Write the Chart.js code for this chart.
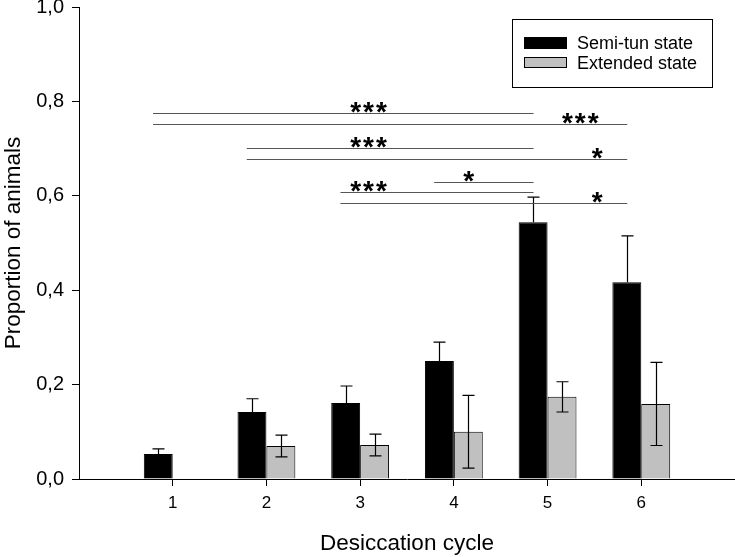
<!DOCTYPE html>
<html>
<head>
<meta charset="utf-8">
<script src="https://cdn.jsdelivr.net/npm/chart.js@4"></script>
<style>
  html, body { margin: 0; padding: 0; background: #fff; }
  #wrap { width: 735px; height: 557px; }
</style>
</head>
<body>
<div id="wrap"><canvas id="myChart"></canvas></div>
<script>
var cycles = [1, 2, 3, 4, 5, 6];
var semiTun = [0.053, 0.142, 0.161, 0.250, 0.544, 0.417];
var semiTunErr = [0.011, 0.028, 0.036, 0.040, 0.053, 0.098];
var extended = [0, 0.070, 0.072, 0.100, 0.174, 0.159];
var extendedErr = [0, 0.023, 0.023, 0.077, 0.032, 0.088];
var yTicks = [0, 0.2, 0.4, 0.6, 0.8, 1.0];

// significance comparisons: from cycle, to cycle, height, stars, where the stars sit (cycle units)
var sigFrom = [1, 1, 2, 2, 4, 3, 3];
var sigTo = [5, 6, 5, 6, 5, 5, 6];
var sigY = [0.775, 0.752, 0.701, 0.678, 0.629, 0.608, 0.585];
var sigText = ['***', '***', '***', '*', '*', '***', '*'];
var sigTextX = [3.1, 5.36, 3.1, 5.54, 4.17, 3.1, 5.54];

var FONT = "'Liberation Sans', Arial, sans-serif";

var errorBars = {
    id: 'errorBars',
    afterDatasetsDraw: function (chart) {
        var ctx = chart.ctx;
        var y = chart.scales.y;
        var errs = [semiTunErr, extendedErr];
        ctx.save();
        ctx.strokeStyle = '#000';
        ctx.lineWidth = 1.2;
        chart.data.datasets.forEach(function (ds, d) {
            var meta = chart.getDatasetMeta(d);
            meta.data.forEach(function (bar, i) {
                var v = ds.data[i].y;
                var e = errs[d][i];
                if (!v || !e) return;
                var x = Math.round(bar.x) + 0.5;
                var top = y.getPixelForValue(v + e);
                var bot = d === 0 ? y.getPixelForValue(v) : y.getPixelForValue(v - e);
                ctx.beginPath();
                ctx.moveTo(x, top);
                ctx.lineTo(x, bot);
                ctx.moveTo(x - 6, top);
                ctx.lineTo(x + 6, top);
                if (d === 1) {
                    ctx.moveTo(x - 6, bot);
                    ctx.lineTo(x + 6, bot);
                }
                ctx.stroke();
            });
        });
        ctx.restore();
    }
};

var sigLines = {
    id: 'sigLines',
    afterDraw: function (chart) {
        var ctx = chart.ctx;
        var xs = chart.scales.x, ys = chart.scales.y;
        ctx.save();
        ctx.strokeStyle = '#555';
        ctx.lineWidth = 1;
        ctx.fillStyle = '#000';
        ctx.font = 'bold 28px ' + FONT;
        ctx.letterSpacing = '2px';
        ctx.textAlign = 'center';
        ctx.textBaseline = 'alphabetic';
        for (var i = 0; i < sigFrom.length; i++) {
            var py = Math.round(ys.getPixelForValue(sigY[i])) + 0.5;
            ctx.beginPath();
            ctx.moveTo(xs.getPixelForValue(sigFrom[i] - 0.21), py);
            ctx.lineTo(xs.getPixelForValue(sigTo[i] - 0.15), py);
            ctx.stroke();
            ctx.fillText(sigText[i], xs.getPixelForValue(sigTextX[i]), py + 7);
        }
        ctx.letterSpacing = '0px';
        // legend
        ctx.strokeStyle = '#000';
        ctx.lineWidth = 1;
        ctx.strokeRect(512.5, 19.5, 200, 68);
        ctx.fillStyle = '#000';
        ctx.fillRect(524, 37, 43, 12);
        ctx.fillStyle = '#c0c0c0';
        ctx.fillRect(524, 57, 43, 11);
        ctx.strokeRect(524.5, 57.5, 42, 10);
        ctx.fillStyle = '#000';
        ctx.font = '18px ' + FONT;
        ctx.textAlign = 'left';
        ctx.textBaseline = 'middle';
        ctx.fillText('Semi-tun state', 577, 44);
        ctx.fillText('Extended state', 577, 64);
        ctx.restore();
    }
};

new Chart('myChart', {
    type: 'bar',
    data: {
        datasets: [{
            label: 'Semi-tun state',
            data: cycles.map(function (c, i) { return { x: c, y: semiTun[i] }; }),
            backgroundColor: '#000',
            borderColor: '#000',
            borderWidth: 1
        }, {
            label: 'Extended state',
            data: cycles.map(function (c, i) { return { x: c, y: extended[i] }; }),
            backgroundColor: '#c0c0c0',
            borderColor: '#000',
            borderWidth: 1
        }]
    },
    options: {
        responsive: true,
        maintainAspectRatio: false,
        animation: false,
        layout: { padding: { top: 0, right: 0, left: 0, bottom: 0 } },
        categoryPercentage: 0.617,
        barPercentage: 1,
        plugins: {
            legend: { display: false },
            tooltip: { enabled: false }
        },
        scales: {
            x: {
                type: 'linear',
                min: 0,
                max: 7,
                offset: false,
                grid: {
                    offset: false,
                    drawOnChartArea: false,
                    tickLength: 7,
                    color: function (c) { return (c.tick && c.tick.value >= 1 && c.tick.value <= 6) ? '#000' : 'rgba(0,0,0,0)'; }
                },
                border: { color: '#000', width: 1 },
                ticks: {
                    stepSize: 1,
                    padding: 7,
                    color: '#000',
                    font: { family: FONT, size: 17 },
                    maxRotation: 0,
                    callback: function (v) { return cycles.indexOf(v) >= 0 ? String(v) : ''; }
                },
                title: {
                    display: true,
                    text: 'Desiccation cycle',
                    color: '#000',
                    font: { family: FONT, size: 22.5 },
                    padding: { top: 0, bottom: 0 }
                },
                afterFit: function (s) { s.height = 78; s.paddingLeft = 0; s.paddingRight = 0; }
            },
            y: {
                min: 0,
                max: 1,
                grid: { drawOnChartArea: false, tickLength: 7, color: '#000' },
                border: { color: '#000', width: 1 },
                afterBuildTicks: function (s) { s.ticks = yTicks.map(function (v) { return { value: v }; }); },
                ticks: {
                    padding: 8,
                    color: '#000',
                    font: { family: FONT, size: 20 },
                    callback: function (v) { return v.toFixed(1).replace('.', ','); }
                },
                title: {
                    display: true,
                    text: 'Proportion of animals',
                    color: '#000',
                    font: { family: FONT, size: 22.5 },
                    padding: { top: 0, bottom: 0 }
                },
                afterFit: function (s) { s.width = 79; s.paddingTop = 7; s.paddingBottom = 0; }
            }
        }
    },
    plugins: [errorBars, sigLines]
});
</script>
</body>
</html>
